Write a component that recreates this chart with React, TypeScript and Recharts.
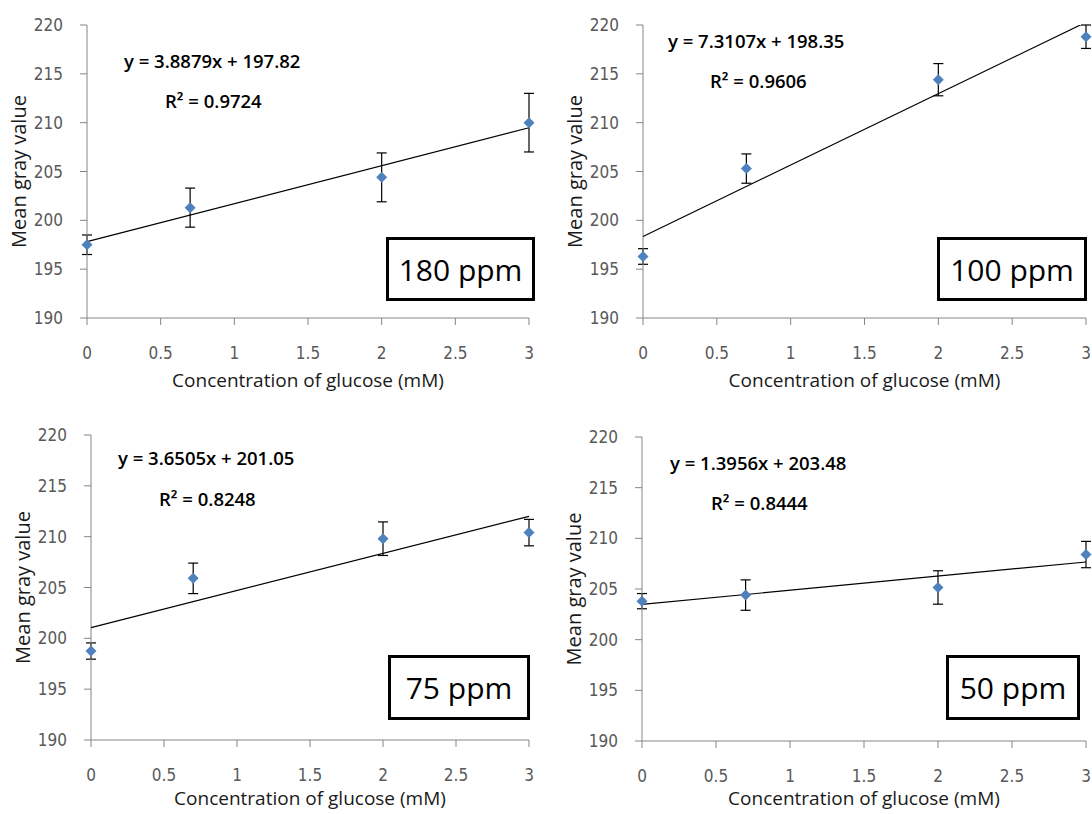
import { ScatterChart, Scatter, XAxis, YAxis, ErrorBar } from 'recharts';

const glucose = [0, 0.7, 2, 3];
const xTicks = [0, 0.5, 1, 1.5, 2, 2.5, 3];
const yTicks = [190, 195, 200, 205, 210, 215, 220];

const ppmLabels = ['180 ppm', '100 ppm', '75 ppm', '50 ppm'];
const gray180 = [197.5, 201.3, 204.4, 210.0];
const sd180 = [1.0, 2.0, 2.5, 3.0];
const gray100 = [196.3, 205.3, 214.4, 218.8];
const sd100 = [0.8, 1.5, 1.65, 1.2];
const gray75 = [198.75, 205.9, 209.8, 210.4];
const sd75 = [0.8, 1.5, 1.65, 1.3];
const gray50 = [203.8, 204.4, 205.15, 208.4];
const sd50 = [0.75, 1.5, 1.65, 1.3];

const slopes = [3.8879, 7.3107, 3.6505, 1.3956];
const intercepts = [197.82, 198.35, 201.05, 203.48];
const rSquared = ['0.9724', '0.9606', '0.8248', '0.8444'];

const means = [gray180, gray100, gray75, gray50];
const errors = [sd180, sd100, sd75, sd50];

// where each panel sits on the page and where its annotations go
const layout = [
  { left: 0, top: 0, yAxisW: 87, right: 17, plotTop: 25, xAxisH: 89, titleDy: 62, eq: [124, 60], r2: [165, 100], box: [386, 237, 149, 64] },
  { left: 546, top: 0, yAxisW: 97, right: 6, plotTop: 25, xAxisH: 89, titleDy: 62, eq: [668, 40], r2: [710, 80], box: [937, 237, 150, 64] },
  { left: 0, top: 407, yAxisW: 91, right: 17, plotTop: 28, xAxisH: 74, titleDy: 58, eq: [118, 457], r2: [159, 498], box: [388, 655, 142, 65] },
  { left: 546, top: 407, yAxisW: 96, right: 6, plotTop: 30, xAxisH: 73, titleDy: 57, eq: [670, 462], r2: [711, 502], box: [946, 655, 134, 65] },
];

const TICK_FONT = "'Liberation Sans Narrow', 'DejaVu Sans Condensed', 'Open Sans', sans-serif";
const TEXT_FONT = "'Open Sans', 'Noto Sans', sans-serif";
const AXIS_GRAY = '#868686';

const Diamond = (p: any) => {
  const { cx, cy } = p;
  const r = 5.5;
  return (
    <polygon
      points={`${cx},${cy - r} ${cx + r},${cy} ${cx},${cy + r} ${cx - r},${cy}`}
      fill="#4F81BD"
    />
  );
};

function Panel({ i }: { i: number }) {
  const L = layout[i];
  const pts = glucose.map((x, k) => ({ x, y: means[i][k], err: errors[i][k] }));
  const trend = [0, 3].map((x) => ({ x, y: slopes[i] * x + intercepts[i] }));

  return (
    <div style={{ position: 'absolute', left: L.left, top: L.top, width: 546, height: 407 }}>
      <ScatterChart
        width={546}
        height={407}
        margin={{ top: L.plotTop, right: L.right, bottom: 0, left: 0 }}
      >
        <XAxis
          type="number"
          dataKey="x"
          domain={[0, 3]}
          ticks={xTicks}
          height={L.xAxisH}
          stroke={AXIS_GRAY}
          tickSize={7}
          tickMargin={22}
          tick={{ fill: '#595959', fontSize: 17, fontFamily: TICK_FONT }}
          label={(props: any) => {
            const vb = props.viewBox;
            return (
              <text
                x={vb.x + vb.width / 2}
                y={vb.y + L.titleDy}
                textAnchor="middle"
                dominantBaseline="central"
                fontSize={19}
                fontFamily={TEXT_FONT}
                fill="#1a1a1a"
              >
                Concentration of glucose (mM)
              </text>
            );
          }}
        />
        <YAxis
          type="number"
          dataKey="y"
          domain={[190, 220]}
          ticks={yTicks}
          width={L.yAxisW}
          stroke={AXIS_GRAY}
          tickSize={7}
          tickMargin={17}
          tick={{ fill: '#595959', fontSize: 17, fontFamily: TICK_FONT }}
          label={(props: any) => {
            const vb = props.viewBox;
            const x = vb.x + vb.width - 69;
            const y = vb.y + vb.height / 2;
            return (
              <text
                x={x}
                y={y}
                transform={`rotate(-90 ${x} ${y})`}
                textAnchor="middle"
                dominantBaseline="central"
                fontSize={20}
                fontFamily={TEXT_FONT}
                fill="#1a1a1a"
              >
                Mean gray value
              </text>
            );
          }}
        />
        <YAxis yAxisId="trend" type="number" dataKey="y" domain={[190, 220]} allowDataOverflow hide />
        <Scatter
          yAxisId="trend"
          data={trend}
          line={{ stroke: '#000', strokeWidth: 1.2 }}
          shape={() => <g />}
          isAnimationActive={false}
        />
        <Scatter data={pts} shape={Diamond} isAnimationActive={false}>
          <ErrorBar dataKey="err" direction="y" width={5} stroke="#000" strokeWidth={1.2} />
        </Scatter>
      </ScatterChart>
    </div>
  );
}

export default function App() {
  return (
    <div style={{ position: 'absolute', left: 0, top: 0, width: 1092, height: 814, background: '#fff', overflow: 'hidden' }}>
      {layout.map((_, i) => (
        <Panel key={i} i={i} />
      ))}
      {layout.map((L, i) => (
        <div key={`ann-${i}`}>
          <div
            style={{
              position: 'absolute', left: L.eq[0], top: L.eq[1], transform: 'translateY(-50%)',
              fontFamily: TEXT_FONT, fontSize: 18.5, fontWeight: 600, color: '#000', whiteSpace: 'nowrap',
            }}
          >
            {`y = ${slopes[i]}x + ${intercepts[i]}`}
          </div>
          <div
            style={{
              position: 'absolute', left: L.r2[0], top: L.r2[1], transform: 'translateY(-50%)',
              fontFamily: TEXT_FONT, fontSize: 18.5, fontWeight: 600, color: '#000', whiteSpace: 'nowrap',
            }}
          >
            R² = {rSquared[i]}
          </div>
          <div
            style={{
              position: 'absolute', left: L.box[0], top: L.box[1], width: L.box[2], height: L.box[3],
              boxSizing: 'border-box', border: '3px solid #000', background: '#fff',
              display: 'flex', alignItems: 'center', justifyContent: 'center',
              fontFamily: TEXT_FONT, fontSize: 30, color: '#000',
            }}
          >
            {ppmLabels[i]}
          </div>
        </div>
      ))}
    </div>
  );
}
